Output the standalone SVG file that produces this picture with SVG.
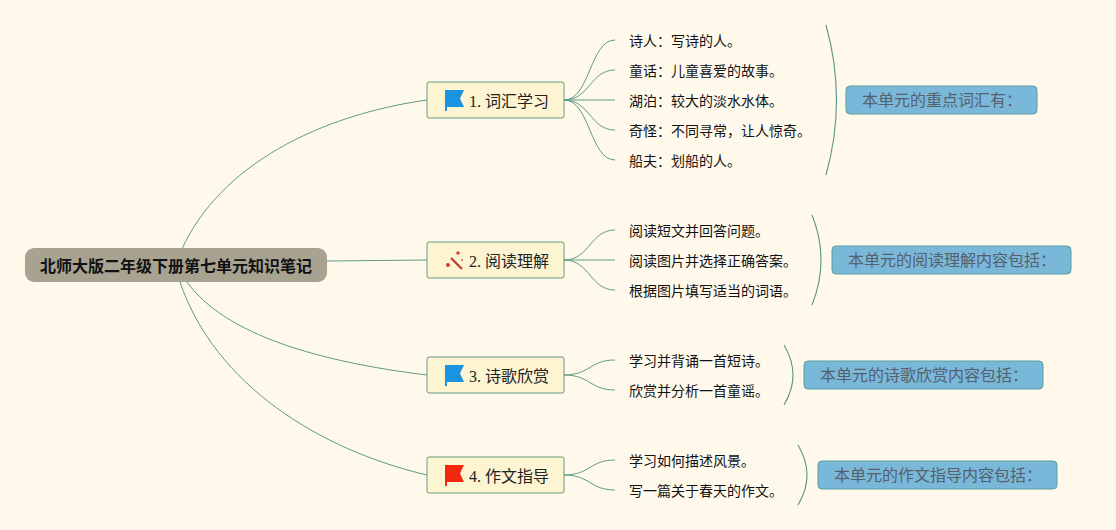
<svg xmlns="http://www.w3.org/2000/svg" width="1116" height="530" viewBox="0 0 1116 530">
<style>
text{font-family:"Noto Sans CJK SC","Liberation Serif",sans-serif}
.c{fill:none;stroke:#5f9a85;stroke-width:1}
.b{fill:none;stroke:#5a9584;stroke-width:1.1}
.t{fill:#fdf4d2;stroke:#659a7f;stroke-width:1}
.tt{font-size:16px;fill:#222;font-family:"Liberation Serif","Noto Sans CJK SC",serif}
.l{font-size:14px;fill:#111}
.s{fill:#7ab8da;stroke:#5b9da0;stroke-width:1}
.st{font-size:16px;fill:#55606a}
</style>
<rect width="1116" height="530" fill="#fff9ec"/>
<g id="connectors">
<path class="c" d="M182 249C220 165 320 115 427 100"/>
<path class="c" d="M327 261L427 260"/>
<path class="c" d="M187 282C225 335 320 362 427 375"/>
<path class="c" d="M180 282C215 385 320 450 427 475"/>
<path class="c" d="M564 100C590 100 590 40 615 40"/>
<path class="c" d="M564 100C590 100 590 70 615 70"/>
<path class="c" d="M564 100L615 100"/>
<path class="c" d="M564 100C590 100 590 130 615 130"/>
<path class="c" d="M564 100C590 100 590 160 615 160"/>
<path class="c" d="M564 260C590 260 590 230 615 230"/>
<path class="c" d="M564 260L615 260"/>
<path class="c" d="M564 260C590 260 590 290 615 290"/>
<path class="c" d="M564 375C590 375 590 360 615 360"/>
<path class="c" d="M564 375C590 375 590 390 615 390"/>
<path class="c" d="M564 475C590 475 590 460 615 460"/>
<path class="c" d="M564 475C590 475 590 490 615 490"/>
<path class="b" d="M826 25Q847 100 826 175"/>
<path class="b" d="M812 215Q830 260 812 305"/>
<path class="b" d="M784 345Q802 375 784 405"/>
<path class="b" d="M798 445Q816 475 798 505"/>
</g>
<g id="root"><rect x="25" y="248" width="302" height="34" rx="9" fill="#a8a391"/><text x="176" y="272" text-anchor="middle" font-size="16" font-weight="700" fill="#111">北师大版二年级下册第七单元知识笔记</text></g>
<g id="n1"><rect class="t" x="427" y="82" width="137" height="36" rx="2"/><path d="M445 90H464L460 98.500 464 107H447V111H445Z" fill="#1a94e0"/><text class="tt" x="469" y="107">1. 词汇学习</text></g>
<g id="n2"><rect class="t" x="427" y="242" width="137" height="36" rx="2"/><path d="M451 258L462 269" stroke="#c23a2c" stroke-width="2.200" fill="none"/><circle cx="448" cy="265" r="2" fill="#d33"/><circle cx="458" cy="253" r="1.700" fill="#d33"/><circle cx="462" cy="260" r="1" fill="#e66"/><text class="tt" x="469" y="267">2. 阅读理解</text></g>
<g id="n3"><rect class="t" x="427" y="357" width="137" height="36" rx="2"/><path d="M445 365H464L460 373.500 464 382H447V386H445Z" fill="#1a94e0"/><text class="tt" x="469" y="382">3. 诗歌欣赏</text></g>
<g id="n4"><rect class="t" x="427" y="457" width="137" height="36" rx="2"/><path d="M445 465H464L460 473.500 464 482H447V486H445Z" fill="#f1280e"/><text class="tt" x="469" y="482">4. 作文指导</text></g>
<g id="l11"><text class="l" x="629" y="46">诗人：写诗的人。</text></g>
<g id="l12"><text class="l" x="629" y="76">童话：儿童喜爱的故事。</text></g>
<g id="l13"><text class="l" x="629" y="106">湖泊：较大的淡水水体。</text></g>
<g id="l14"><text class="l" x="629" y="136">奇怪：不同寻常，让人惊奇。</text></g>
<g id="l15"><text class="l" x="629" y="166">船夫：划船的人。</text></g>
<g id="l21"><text class="l" x="629" y="236">阅读短文并回答问题。</text></g>
<g id="l22"><text class="l" x="629" y="266">阅读图片并选择正确答案。</text></g>
<g id="l23"><text class="l" x="629" y="296">根据图片填写适当的词语。</text></g>
<g id="l31"><text class="l" x="629" y="366">学习并背诵一首短诗。</text></g>
<g id="l32"><text class="l" x="629" y="396">欣赏并分析一首童谣。</text></g>
<g id="l41"><text class="l" x="629" y="466">学习如何描述风景。</text></g>
<g id="l42"><text class="l" x="629" y="496">写一篇关于春天的作文。</text></g>
<g id="s1"><rect class="s" x="846" y="86" width="191" height="28" rx="4"/><text class="st" x="862" y="106">本单元的重点词汇有：</text></g>
<g id="s2"><rect class="s" x="832" y="246" width="239" height="28" rx="4"/><text class="st" x="848" y="266">本单元的阅读理解内容包括：</text></g>
<g id="s3"><rect class="s" x="804" y="361" width="239" height="28" rx="4"/><text class="st" x="820" y="381">本单元的诗歌欣赏内容包括：</text></g>
<g id="s4"><rect class="s" x="818" y="461" width="239" height="28" rx="4"/><text class="st" x="834" y="481">本单元的作文指导内容包括：</text></g>
</svg>
